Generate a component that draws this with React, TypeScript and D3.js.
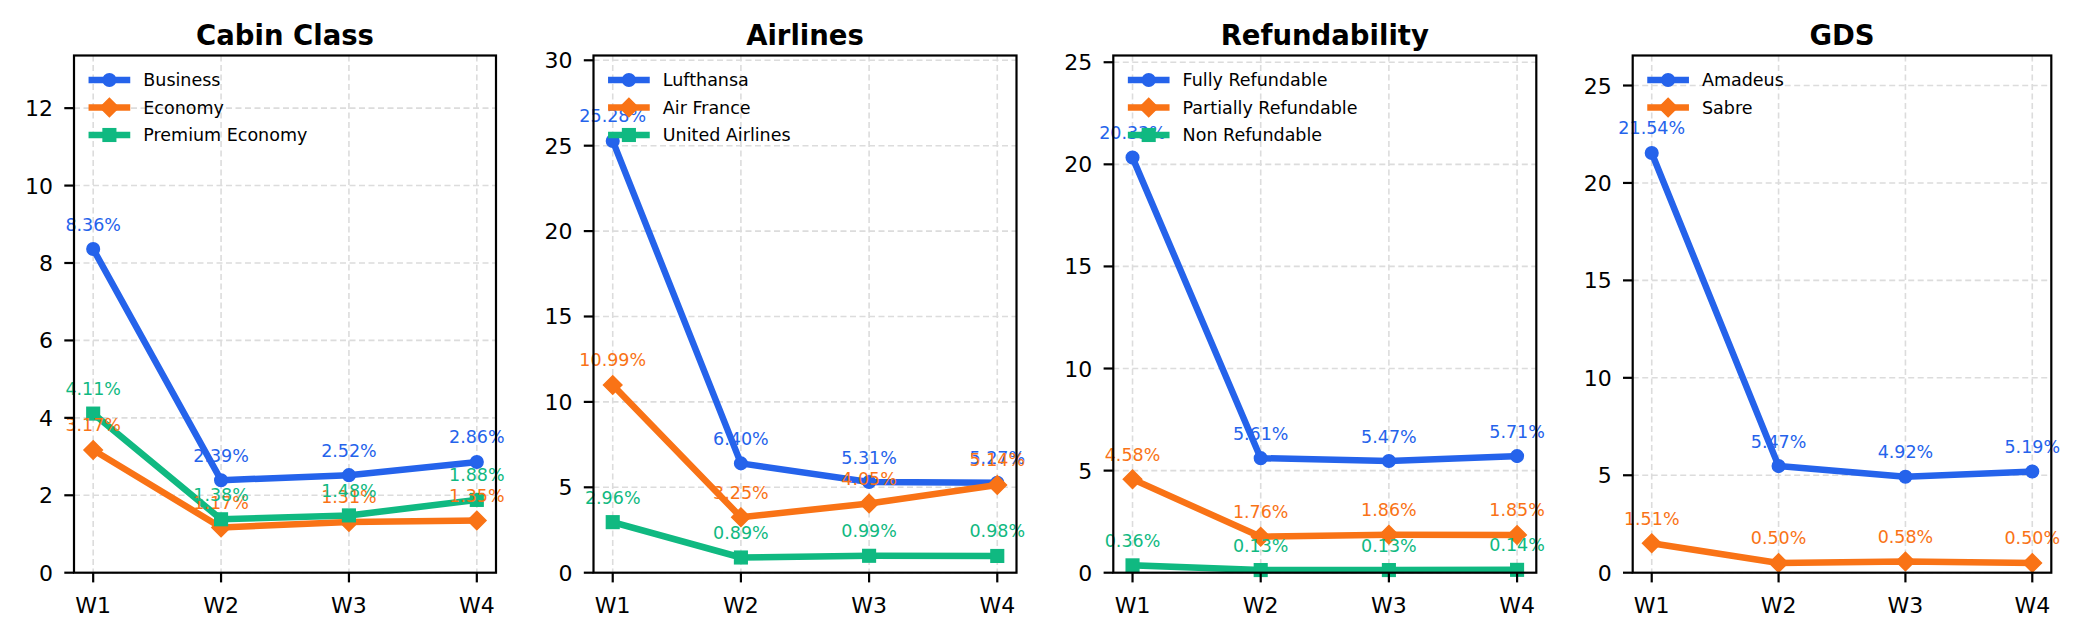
import React from "react";
import * as d3 from "d3";

const weeks = ["W1", "W2", "W3", "W4"];

const panelTitles = ["Cabin Class", "Airlines", "Refundability", "GDS"];

const cabinNames = ["Business", "Economy", "Premium Economy"];
const cabinBusiness = [8.36, 2.39, 2.52, 2.86];
const cabinEconomy = [3.17, 1.17, 1.31, 1.35];
const cabinPremium = [4.11, 1.38, 1.48, 1.88];

const airlineNames = ["Lufthansa", "Air France", "United Airlines"];
const airLufthansa = [25.28, 6.4, 5.31, 5.27];
const airAirFrance = [10.99, 3.25, 4.05, 5.14];
const airUnited = [2.96, 0.89, 0.99, 0.98];

const refundNames = ["Fully Refundable", "Partially Refundable", "Non Refundable"];
const refundFully = [20.33, 5.61, 5.47, 5.71];
const refundPartial = [4.58, 1.76, 1.86, 1.85];
const refundNon = [0.36, 0.13, 0.13, 0.14];

const gdsNames = ["Amadeus", "Sabre"];
const gdsAmadeus = [21.54, 5.47, 4.92, 5.19];
const gdsSabre = [1.51, 0.5, 0.58, 0.5];

const yTicks1 = [0, 2, 4, 6, 8, 10, 12];
const yTicks2 = [0, 5, 10, 15, 20, 25, 30];
const yTicks3 = [0, 5, 10, 15, 20, 25];
const yTicks4 = [0, 5, 10, 15, 20, 25];

const colors = ["#2563eb", "#f97316", "#10b981"];
const markers = ["circle", "diamond", "square"];

const panels = [
  { title: panelTitles[0], names: cabinNames, series: [cabinBusiness, cabinEconomy, cabinPremium], ticks: yTicks1 },
  { title: panelTitles[1], names: airlineNames, series: [airLufthansa, airAirFrance, airUnited], ticks: yTicks2 },
  { title: panelTitles[2], names: refundNames, series: [refundFully, refundPartial, refundNon], ticks: yTicks3 },
  { title: panelTitles[3], names: gdsNames, series: [gdsAmadeus, gdsSabre], ticks: yTicks4 },
];

const lefts = [74, 593.5, 1113.3, 1632.7];
const widths = [422, 423, 423, 418.6];
const TOP = 55.5;
const BOTTOM = 572.7;
const FONT = "'DejaVu Sans', sans-serif";
const SMALL = 17.5;

function Marker({ type, x, y, color }: { type: string; x: number; y: number; color: string }) {
  if (type === "circle") return <circle cx={x} cy={y} r={6.3} fill={color} stroke={color} strokeWidth={1.5} />;
  if (type === "square") return <rect x={x - 6.3} y={y - 6.3} width={12.6} height={12.6} fill={color} stroke={color} strokeWidth={1.5} />;
  const h = 9.2;
  return (
    <path d={`M${x},${y - h}L${x + h},${y}L${x},${y + h}L${x - h},${y}Z`} fill={color} stroke={color} strokeWidth={1.5} />
  );
}

function Panel({ idx }: { idx: number }) {
  const p = panels[idx];
  const left = lefts[idx];
  const w = widths[idx];
  const allMax = d3.max(p.series.flat()) as number;
  const x = d3.scalePoint<string>().domain(weeks).range([left, left + w]).padding(0.15);
  const y = d3.scaleLinear().domain([0, allMax + 5]).range([BOTTOM, TOP]);
  const line = d3
    .line<number>()
    .x((_, i) => x(weeks[i]) as number)
    .y((v) => y(v));

  return (
    <g>
      {p.ticks.map((t) => (
        <line key={"gy" + t} x1={left} x2={left + w} y1={y(t)} y2={y(t)} stroke="#dcdcdc" strokeWidth={1.6} strokeDasharray="6,3.5" />
      ))}
      {weeks.map((wk) => (
        <line key={"gx" + wk} x1={x(wk)} x2={x(wk)} y1={TOP} y2={BOTTOM} stroke="#dcdcdc" strokeWidth={1.6} strokeDasharray="6,3.5" />
      ))}
      {p.series.map((s, si) => (
        <g key={"s" + si}>
          <path d={line(s) as string} fill="none" stroke={colors[si]} strokeWidth={6.5} strokeLinejoin="round" strokeLinecap="square" />
          {s.map((v, i) => (
            <Marker key={i} type={markers[si]} x={x(weeks[i]) as number} y={y(v)} color={colors[si]} />
          ))}
        </g>
      ))}
      {p.series.map((s, si) =>
        s.map((v, i) => (
          <text
            key={"l" + si + "-" + i}
            x={x(weeks[i]) as number}
            y={y(v) - 18.5}
            textAnchor="middle"
            fontFamily={FONT}
            fontSize={SMALL}
            fill={colors[si]}
          >
            {v.toFixed(2) + "%"}
          </text>
        ))
      )}
      <rect x={left} y={TOP} width={w} height={BOTTOM - TOP} fill="none" stroke="#000" strokeWidth={2.2} />
      {p.ticks.map((t) => (
        <g key={"yt" + t}>
          <line x1={left - 9.7} x2={left} y1={y(t)} y2={y(t)} stroke="#000" strokeWidth={2.2} />
          <text x={left - 21} y={y(t) + 8} textAnchor="end" fontFamily={FONT} fontSize={22} fill="#000">
            {t}
          </text>
        </g>
      ))}
      {weeks.map((wk) => (
        <g key={"xt" + wk}>
          <line x1={x(wk)} x2={x(wk)} y1={BOTTOM} y2={BOTTOM + 9.7} stroke="#000" strokeWidth={2.2} />
          <text x={x(wk)} y={612.5} textAnchor="middle" fontFamily={FONT} fontSize={22} fill="#000">
            {wk}
          </text>
        </g>
      ))}
      <text x={left + w / 2} y={45} textAnchor="middle" fontFamily={FONT} fontSize={27.5} fontWeight="bold" fill="#000">
        {p.title}
      </text>
      {p.names.map((n, si) => {
        const ly = 80 + si * 27.5;
        return (
          <g key={"lg" + si}>
            <line x1={left + 17.8} x2={left + 53} y1={ly} y2={ly} stroke={colors[si]} strokeWidth={6.5} strokeLinecap="square" />
            <Marker type={markers[si]} x={left + 35.4} y={ly} color={colors[si]} />
            <text x={left + 69.3} y={ly + 6.3} fontFamily={FONT} fontSize={SMALL} fill="#000">
              {n}
            </text>
          </g>
        );
      })}
    </g>
  );
}

export default function App() {
  return (
    <svg
      width={2087}
      height={640}
      style={{ position: "absolute", left: 0, top: 0, background: "#fff" }}
      xmlns="http://www.w3.org/2000/svg"
    >
      <rect x={0} y={0} width={2087} height={640} fill="#fff" />
      {panels.map((_, i) => (
        <Panel key={i} idx={i} />
      ))}
    </svg>
  );
}
